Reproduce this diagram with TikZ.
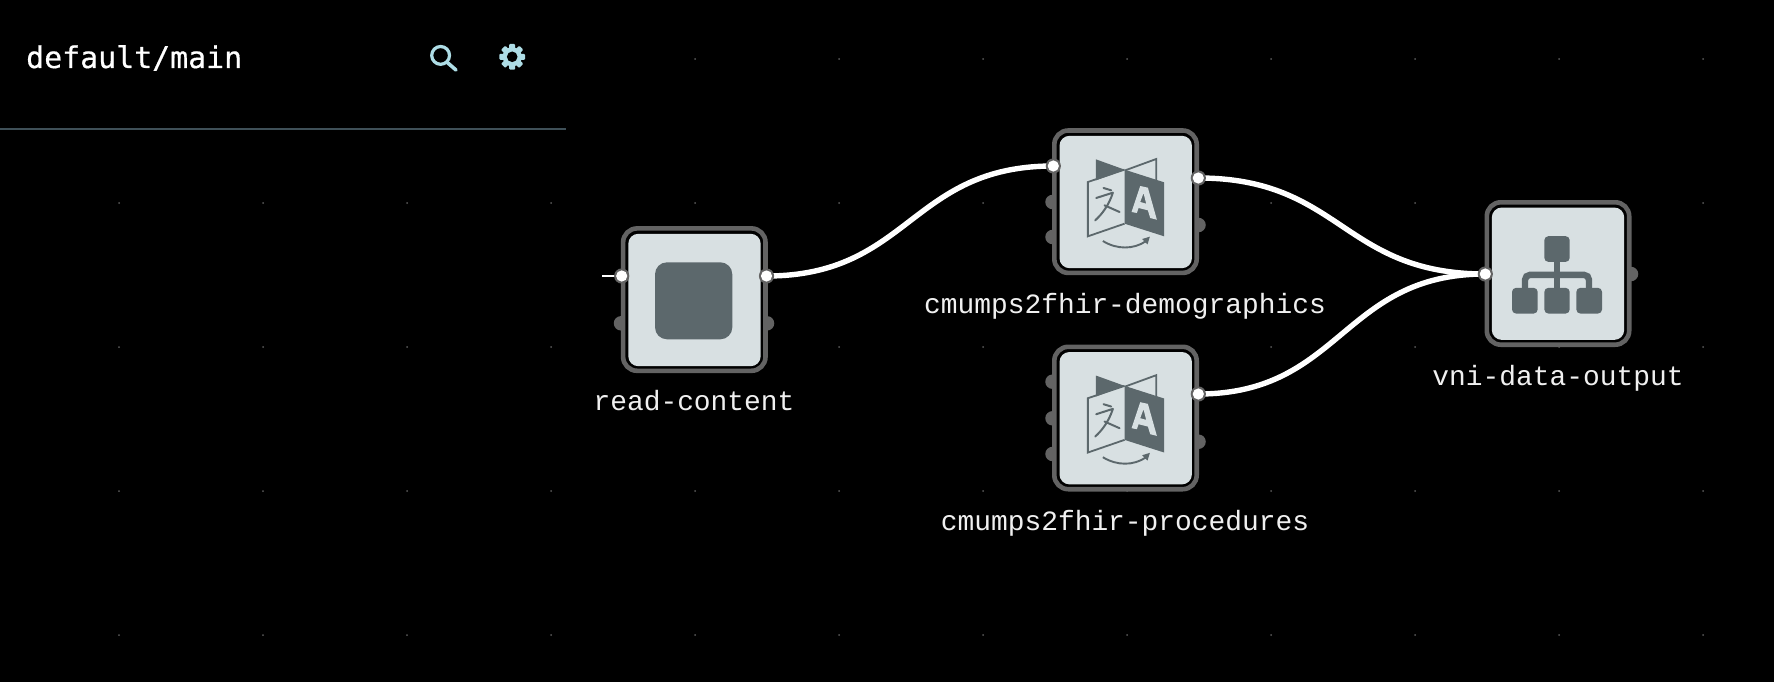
\documentclass[tikz,border=0pt]{standalone}
\usepackage{fontspec}
\setmainfont{Liberation Mono}
\newfontfamily\titlefont[FakeBold=0.5]{DejaVu Sans Mono}
\usetikzlibrary{arrows.meta}
\definecolor{framegray}{HTML}{636363}
\definecolor{panelc}{HTML}{D8E0E2}
\definecolor{icondark}{HTML}{5C686C}
\definecolor{iconblue}{HTML}{AEDDE6}
\definecolor{rulec}{HTML}{3F5058}
\definecolor{dotc}{HTML}{5A5A5A}
\definecolor{labelc}{HTML}{F0F0F0}
\tikzset{
  frame/.style={draw=framegray,fill=black,line width=4.6pt,rounded corners=14pt,minimum size=142.4pt,inner sep=0pt},
  panel/.style={fill=panelc,rounded corners=10pt,minimum size=132.4pt,inner sep=0pt},
  gport/.style={circle,fill=framegray,minimum size=14.5pt,inner sep=0pt},
  port/.style={circle,inner sep=0pt,minimum size=14pt},
  wire/.style={draw=white,line width=5.4pt},
  stub/.style={draw=white,line width=2pt},
  nlabel/.style={text=labelc,font=\fontsize{27.9pt}{30pt}\selectfont,anchor=base,inner sep=0pt},
  pics/translator/.style={code={
    \begin{scope}[scale=1/3,shift={(-286.5,-275)}]
      \fill[icondark] (197,147) -- (283,178) -- (197,210) -- cycle;
      \draw[icondark,line width=1.8pt] (285,180) -- (378,146) -- (378,218);
      \draw[icondark,line width=1.8pt,line join=miter] (283,178) -- (173,215) -- (173,378) -- (283,340);
      \fill[icondark] (283,178) -- (402,216) -- (402,378) -- (283,340) -- cycle;
      \fill[panelc,even odd rule] (304,305) -- (330,227) -- (353,232) -- (380,328) -- (360,323) -- (353,300) -- (325,293) -- (320,308) -- cycle
        (330,275) -- (348,280) -- (340,248) -- cycle;
      \draw[icondark,line width=2pt,line cap=round] (220,233) -- (243,240);
      \draw[icondark,line width=2pt,line cap=round,line join=round] (198,263) -- (248,247) .. controls (236,285) and (215,312) .. (195,330);
      \draw[icondark,line width=2pt,line cap=round] (223,285) -- (268,305);
      \draw[icondark,line width=1.9pt] (218,392) .. controls (260,418) and (310,418) .. (348,392);
      \fill[icondark] (359,379) -- (352,402) -- (345,396) -- (336,386) -- cycle;
    \end{scope}}},
  pics/netw/.style={code={
    \begin{scope}[scale=1/3,shift={(-414,-280.5)}]
      \draw[icondark,line width=6.4pt,rounded corners=5pt] (315,330) -- (315,284) -- (507,284) -- (507,330);
      \draw[icondark,line width=6.4pt] (411,240) -- (411,330);
      \fill[icondark,rounded corners=4pt] (373,168) rectangle (449,245);
      \fill[icondark,rounded corners=4pt] (276,323) rectangle (353,400);
      \fill[icondark,rounded corners=4pt] (373,323) rectangle (449,400);
      \fill[icondark,rounded corners=4pt] (469,323) rectangle (546,400);
    \end{scope}}}
}
\begin{document}
\begin{tikzpicture}[x=1pt,y=-1pt]
\useasboundingbox[fill=black] (0,0) rectangle (1774,682);
% grid
\foreach \yy in {59,203,347,491,635}
  \foreach \xx in {119,263,...,1703}
    \fill[dotc] (\xx,\yy) circle (1pt);
% side panel
\fill[black] (0,0) rectangle (565,129);
\draw[rulec,line width=1.8pt] (0,128.9) -- (566,128.9);
\node[text=white,font=\titlefont\fontsize{29.9pt}{32pt}\selectfont,anchor=base west,inner sep=0pt] (title) at (26,68) {default/main};
% search icon
\draw[iconblue,line width=3.2pt] (440.6,55.4) circle (8.9pt);
\draw[iconblue,line width=3.6pt,line cap=round] (447.4,62.6) -- (456,70);
% gear icon
\begin{scope}[shift={(512.2,56.8)}]
  \foreach \a in {0,45,...,315}
    \fill[iconblue,rotate=\a,rounded corners=1pt] (-3,-12.8) rectangle (3,-6);
  \fill[iconblue] (0,0) circle (9.6pt);
  \fill[black] (0,0) circle (5.3pt);
\end{scope}
% grey ports behind frames
\node[gport] (n1a) at (621,323.3) {};
\node[gport] (n1b) at (767,323.3) {};
\node[gport] (n2a) at (1052.5,202) {};
\node[gport] (n2b) at (1052.5,237) {};
\node[gport] (n2c) at (1198.5,225) {};
\node[gport] (n3a) at (1052.5,381.7) {};
\node[gport] (n3b) at (1052.5,418.3) {};
\node[gport] (n3c) at (1052.5,454) {};
\node[gport] (n3d) at (1198.5,441.7) {};
\node[gport] (n4a) at (1631,274) {};
% nodes
\node[frame] (n1) at (694.3,299.6) {};
\node[panel] (p1) at (694.5,300) {};
\node[frame] (n2) at (1125.5,201.7) {};
\node[panel] (p2) at (1125.7,202) {};
\node[frame] (n3) at (1125.5,418) {};
\node[panel] (p3) at (1125.7,418.2) {};
\node[frame] (n4) at (1558,273.5) {};
\node[panel] (p4) at (1558,273.7) {};
% icons
\fill[icondark,rounded corners=12pt] (655,262.3) rectangle (732.3,339.3);
\pic at (p2) {translator};
\pic at (p3) {translator};
\pic at (p4) {netw};
% wires
\coordinate (free) at (602,276);
\node[port] (n1in) at (621.7,276) {};
\node[port] (n1out) at (766.5,276) {};
\node[port] (n2in) at (1053.3,166) {};
\node[port] (n2out) at (1198.3,178) {};
\node[port] (n3out) at (1198.3,394) {};
\node[port] (n4in) at (1485.3,274) {};
\draw[stub] (free) -- (n1in);
\draw[wire] (n1out.center) .. controls +(143,0) and +(-143,0) .. (n2in.center);
\draw[wire] (n2out.center) .. controls +(143,0) and +(-143,0) .. (n4in.center);
\draw[wire] (n3out.center) .. controls +(143,0) and +(-143,0) .. (n4in.center);
\foreach \p in {n1in,n1out,n2in,n2out,n3out,n4in}
  \fill[framegray] (\p) circle (7.6pt);
\foreach \p in {n1in,n1out,n2in,n2out,n3out,n4in}
  \fill[white] (\p) circle (5.6pt);
% labels
\node[nlabel] (l1) at (694,410.7) {read-content};
\node[nlabel] (l2) at (1125,313) {cmumps2fhir-demographics};
\node[nlabel] (l3) at (1125,530) {cmumps2fhir-procedures};
\node[nlabel] (l4) at (1558,385) {vni-data-output};
\end{tikzpicture}
\end{document}
